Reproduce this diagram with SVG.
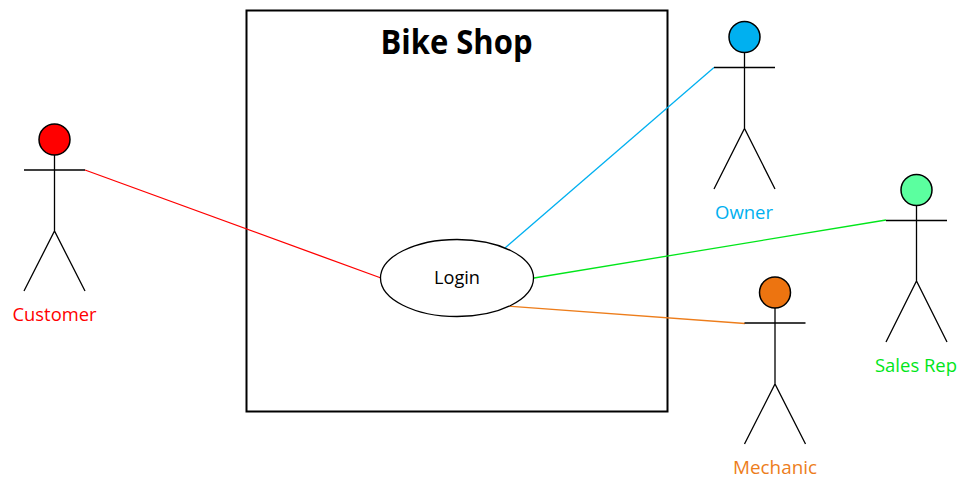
<svg xmlns="http://www.w3.org/2000/svg" width="963" height="482" viewBox="0 0 963 482">
<style>
.s{fill:none;stroke:#000;stroke-width:1.3}
.h{stroke:#000;stroke-width:1.5}
.c{fill:none;stroke-width:1.3}
text{font-family:"Open Sans","Noto Sans","Liberation Sans",sans-serif;text-anchor:middle}
.l{font-size:18.5px}
</style>
<rect width="963" height="482" fill="#fff"/>
<g id="system"><rect x="246.500" y="10.500" width="421" height="401" fill="#fff" stroke="#000" stroke-width="2"/>
<text x="456.500" y="54" font-size="33.500" font-weight="700" textLength="152" lengthAdjust="spacingAndGlyphs">Bike Shop</text></g>
<g id="connectors">
<path class="c" stroke="#ff0000" d="M85 170L381 278"/>
<path class="c" stroke="#00b0f0" d="M714 67.500L505 248"/>
<path class="c" stroke="#00e61a" d="M886 220L534 278"/>
<path class="c" stroke="#ed7d1b" d="M745 323.500L505 306"/>
</g>
<g id="login"><ellipse cx="457" cy="278" rx="76.500" ry="38.500" fill="#fff" stroke="#000" stroke-width="1.300"/>
<text x="457" y="284" font-size="18" textLength="46" lengthAdjust="spacingAndGlyphs">Login</text></g>
<g id="customer"><circle class="h" cx="54.500" cy="139.500" r="15.500" fill="#ff0000"/>
<path class="s" d="M54.500 155V231M24 170H85M24 291L54.500 231L85 291"/>
<text class="l" x="54.500" y="320.500" fill="#ff0000" textLength="84" lengthAdjust="spacingAndGlyphs">Customer</text></g>
<g id="owner"><circle class="h" cx="744.500" cy="37" r="15.500" fill="#00b0f0"/>
<path class="s" d="M744.500 52.500V128.500M714 67.500H775M714 189L744.500 128.500L775 189"/>
<text class="l" x="744" y="218.500" fill="#00b0f0" textLength="58" lengthAdjust="spacingAndGlyphs">Owner</text></g>
<g id="salesrep"><circle class="h" cx="916.500" cy="190" r="15.500" fill="#5bff9f"/>
<path class="s" d="M916.500 205.500V281M886 220.500H947M886 342L916.500 281L947 342"/>
<text class="l" x="916" y="372" fill="#00e61a" textLength="82" lengthAdjust="spacingAndGlyphs">Sales Rep</text></g>
<g id="mechanic"><circle class="h" cx="775" cy="292.500" r="15.500" fill="#ed7410"/>
<path class="s" d="M775 308V384M744.500 323H805.500M744.500 444L775 384L805.500 444"/>
<text class="l" x="775" y="473.500" fill="#ed7d1b" textLength="84" lengthAdjust="spacingAndGlyphs">Mechanic</text></g>
</svg>
